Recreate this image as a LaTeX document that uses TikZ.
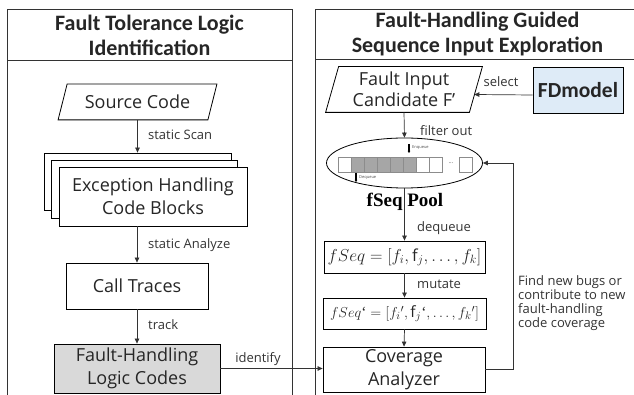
\documentclass[tikz,border=0pt]{standalone}
\usepackage{fontspec}
\setmainfont{Open Sans}
\newfontfamily\titlefont{Carlito}
\newfontfamily\poolfont{Liberation Serif}
\usetikzlibrary{arrows.meta,calc,shapes.geometric}
\definecolor{fdblue}{HTML}{DEEBF7}
\definecolor{hlgray}{HTML}{D9D9D9}
\definecolor{cellgray}{HTML}{A6A6A6}
\begin{document}
\begin{tikzpicture}[x=1pt,y=-1pt,
  panel/.style={draw=black!80, line width=0.9pt},
  box/.style={draw=black, line width=0.8pt, inner sep=0pt, align=center,
    text=black!85, font=\fontsize{18}{22.5}\selectfont},
  shapeline/.style={draw=black, line width=0.8pt},
  lbl/.style={font=\fontsize{13}{14}\selectfont, text=black!80, inner sep=0pt},
  arr/.style={draw=black!80, line width=0.7pt, -{Triangle[length=5pt,width=4.5pt]}},
  ttl/.style={align=center, font=\titlefont\bfseries\fontsize{22}{25}\selectfont, text=black!85},
  cell/.style={draw=black!45, line width=0.5pt},
  tiny/.style={font=\fontsize{4}{5}\selectfont, inner sep=0pt, text=black!70}
]
\useasboundingbox (0,0) rectangle (634,395);
\clip (0,0) rectangle (634,395);

% panels
\draw[panel] (7,9) rectangle (292,410);
\draw[panel] (7,60) -- (292,60);
\draw[panel] (315,9) rectangle (650,410);
\draw[panel] (315,59) -- (650,59);
\node[ttl] (t1) at (149.5,35) {Fault Tolerance Logic\\Identification};
\node[ttl] (t2) at (477.5,34) {Fault-Handling Guided\\Sequence Input Exploration};

% left column
\node[box, draw=none, minimum width=149, minimum height=35] (sc) at (137.5,102) {Source Code};
\draw[shapeline] ($(sc.south west)+(-4.5,0)$) -- ($(sc.south east)+(-4.5,0)$)
  -- ($(sc.north east)+(4.5,0)$) -- ($(sc.north west)+(4.5,0)$) -- cycle;

\node[box, fill=white, minimum width=187, minimum height=57] (eb3) at (137.5,181.5) {};
\node[box, fill=white, minimum width=186, minimum height=58] (eb2) at (144,189) {};
\node[box, fill=white, minimum width=188, minimum height=59] (eb1) at (153,196.5) {Exception Handling\\Code Blocks};

\node[box, minimum width=142, minimum height=46] (ct) at (137,286) {Call Traces};
\node[box, fill=hlgray, minimum width=166, minimum height=49] (flc) at (137,368.5) {Fault-Handling\\Logic Codes};

\draw[arr] (sc.south) -- (sc.south |- eb3.north);
\node[lbl, anchor=west] (l1) at (148,135) {static Scan};
\draw[arr] (eb1.south -| ct.north) -- (ct.north);
\node[lbl, anchor=west] (l2) at (148,245) {static Analyze};
\draw[arr] (ct.south) -- (flc.north);
\node[lbl, anchor=west] (l3) at (148,325) {track};

% right column
\node[box, draw=none, minimum width=143, minimum height=45, font=\fontsize{18}{21}\selectfont] (fi) at (404,89.5) {Fault Input\\Candidate F'};
\draw[shapeline] ($(fi.south west)+(-6.5,0)$) -- ($(fi.south east)+(-6.5,0)$)
  -- ($(fi.north east)+(6.5,0)$) -- ($(fi.north west)+(6.5,0)$) -- cycle;

\node[box, fill=fdblue, minimum width=90, minimum height=46,
  font=\titlefont\bfseries\fontsize{21.5}{24}\selectfont] (fd) at (578,90) {FDmodel};
\coordinate (selA) at ($(fd.west)+(0,5)$);
\coordinate (selB) at ($(fi.east)+(-1.6,5)$);
\draw[arr] (selA) -- (selB);
\node[lbl] (l4) at (501,82) {select};

\node[draw=black, line width=0.8pt, ellipse, inner sep=0pt,
  minimum width=156, minimum height=50] (pool) at (404.5,163) {};
\foreach \k in {0,6,7} \draw[cell, fill=white] (338+13*\k,157) rectangle ++(13,15);
\foreach \k in {1,...,5} \draw[cell, fill=cellgray] (338+13*\k,157) rectangle ++(13,15);
\draw[cell, fill=white] (459,157) rectangle ++(13,15);
\node[tiny, font=\fontsize{6}{6}\selectfont] (dots) at (451,163) {...};
\draw[line width=1.1pt, -{Triangle[length=2pt,width=2.5pt]}] (409,144) -- (409,153);
\node[tiny, anchor=west] (enq) at (412,148) {Enqueue};
\draw[line width=1.1pt, -{Triangle[length=2pt,width=2.5pt]}] (356,173) -- (356,182);
\node[tiny, anchor=west] (deq) at (359,178) {Dequeue};

\draw[arr] (fi.south) -- (pool.north);
\node[lbl, anchor=west] (l5) at (420,131) {filter out};

\node[font=\poolfont\bfseries\fontsize{19}{20}\selectfont, inner sep=0pt] (pl) at (405,202) {fSeq Pool};

\node[box, minimum width=161, minimum height=32, font=\fontsize{16.5}{18}\selectfont] (fs) at (404.5,257)
  {$fSeq = [f_i, \mathrm{f}_j, \ldots, f_k]$};
\node[box, minimum width=163, minimum height=31, font=\fontsize{15.5}{18}\selectfont] (fs2) at (404.5,313.5)
  {$fSeq\mbox{\poolfont‘} = [f_i{}', \mathrm{f}_j\mbox{\poolfont‘}, \ldots, f_k{}']$};
\node[box, minimum width=162, minimum height=45] (ca) at (404,369.5) {Coverage\\Analyzer};

\draw[arr] (pool.south) -- (fs.north);
\node[lbl, anchor=west] (l6) at (417,228) {dequeue};
\draw[arr] (fs.south) -- (fs2.north);
\node[lbl, anchor=west] (l7) at (417,284) {mutate};
\draw[arr] (fs2.south) -- (ca.north);

\draw[arr] (ca.east) -- ++(28,0) |- (pool.east);
\node[lbl, anchor=north west, align=left, text=black!80] (fb) at (518,275)
  {Find new bugs or\\contribute to new\\fault-handling\\code coverage};

% identify
\draw[arr] (flc.east) -- (flc.east -| ca.west);
\node[lbl] (l8) at (258,359) {identify};
\end{tikzpicture}
\end{document}
